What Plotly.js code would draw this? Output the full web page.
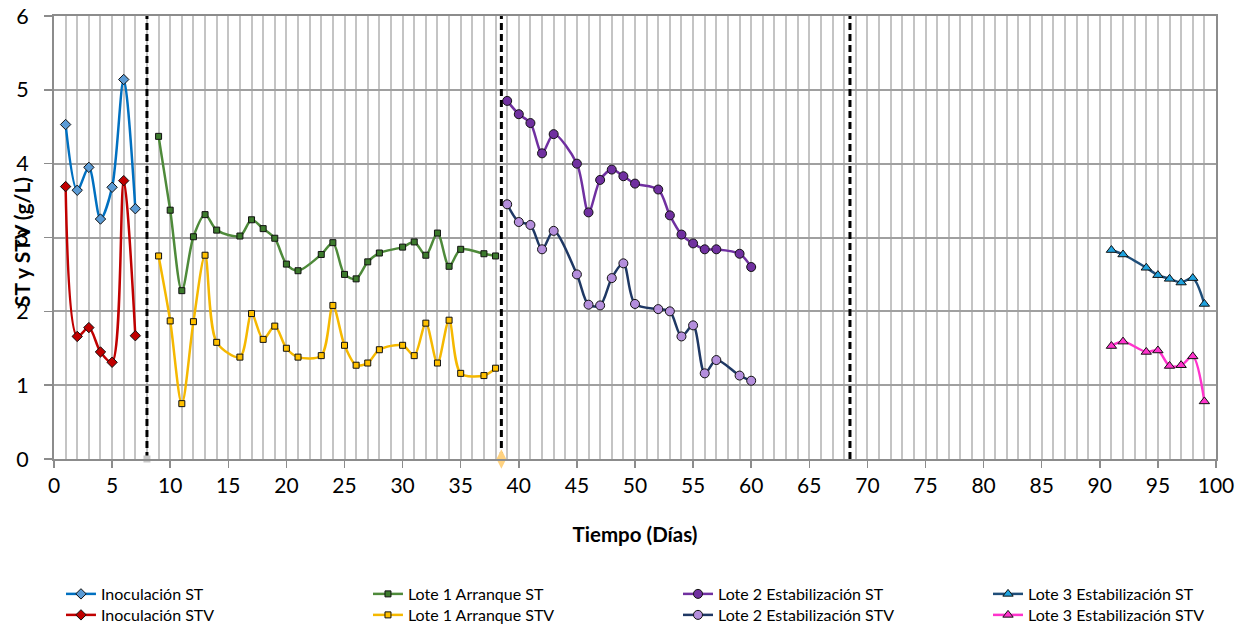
<!DOCTYPE html>
<html>
<head>
<meta charset="utf-8">
<script src="https://cdn.plot.ly/plotly-3.0.1.min.js"></script>
<style>
  html, body { margin: 0; padding: 0; background: #fff; overflow: hidden; }
  #chart { width: 1250px; height: 650px; }
</style>
</head>
<body>
<div id="chart"></div>
<script>
// Inoculación
const diasInoc = [1, 2, 3, 4, 5, 6, 7];
const stInoc = [4.53, 3.64, 3.95, 3.25, 3.68, 5.14, 3.39];
const stvInoc = [3.69, 1.66, 1.78, 1.45, 1.31, 3.77, 1.67];

// Lote 1 Arranque
const diasLote1 = [9, 10, 11, 12, 13, 14, 16, 17, 18, 19, 20, 21, 23, 24, 25, 26, 27, 28, 30, 31, 32, 33, 34, 35, 37, 38];
const stLote1 = [4.37, 3.37, 2.28, 3.01, 3.31, 3.10, 3.02, 3.24, 3.12, 2.99, 2.64, 2.55, 2.77, 2.93, 2.50, 2.44, 2.67, 2.79, 2.87, 2.94, 2.76, 3.06, 2.61, 2.84, 2.78, 2.75];
const stvLote1 = [2.75, 1.87, 0.75, 1.86, 2.76, 1.58, 1.38, 1.97, 1.62, 1.80, 1.50, 1.38, 1.40, 2.08, 1.54, 1.27, 1.30, 1.48, 1.54, 1.40, 1.84, 1.30, 1.88, 1.16, 1.13, 1.23];

// Lote 2 Estabilización
const diasLote2 = [39, 40, 41, 42, 43, 45, 46, 47, 48, 49, 50, 52, 53, 54, 55, 56, 57, 59, 60];
const stLote2 = [4.85, 4.67, 4.55, 4.14, 4.40, 4.00, 3.34, 3.78, 3.92, 3.83, 3.73, 3.65, 3.30, 3.04, 2.92, 2.84, 2.84, 2.78, 2.60];
const stvLote2 = [3.45, 3.21, 3.17, 2.84, 3.09, 2.50, 2.09, 2.08, 2.45, 2.65, 2.10, 2.03, 2.00, 1.66, 1.81, 1.16, 1.34, 1.13, 1.06];

// Lote 3 Estabilización
const diasLote3 = [91, 92, 94, 95, 96, 97, 98, 99];
const stLote3 = [2.83, 2.77, 2.59, 2.49, 2.44, 2.39, 2.45, 2.10];
const stvLote3 = [1.53, 1.59, 1.45, 1.47, 1.26, 1.27, 1.39, 0.78];

// Cambios de etapa (líneas verticales discontinuas)
const diasCambio = [8, 38.5, 68.5];
const rangoY = [0, 6];

const FONT = 'Lato, "Open Sans", "DejaVu Sans", sans-serif';

function serie(name, x, y, lineColor, markerColor, symbol, size, legendId) {
  return {
    type: 'scatter', mode: 'lines+markers', name: name, x: x, y: y, legend: legendId,
    line: { color: lineColor, width: 2.5, shape: 'spline', smoothing: 0.85 },
    marker: { symbol: symbol, size: size, color: markerColor, line: { color: '#111', width: 1 } }
  };
}

const traces = [
  serie('Inoculación ST', diasInoc, stInoc, '#0070C0', '#5B9BD5', 'diamond', 8, 'legend'),
  serie('Inoculación STV', diasInoc, stvInoc, '#C00000', '#C00000', 'diamond', 8, 'legend2'),
  serie('Lote 1 Arranque ST', diasLote1, stLote1, '#4E8A3A', '#3C7A2C', 'square', 6, 'legend3'),
  serie('Lote 1 Arranque STV', diasLote1, stvLote1, '#F5B800', '#FFC000', 'square', 6, 'legend4'),
  serie('Lote 2 Estabilización ST', diasLote2, stLote2, '#7030A0', '#7030A0', 'circle', 9, 'legend5'),
  serie('Lote 2 Estabilización STV', diasLote2, stvLote2, '#1F3864', '#B48EDC', 'circle', 9, 'legend6'),
  serie('Lote 3 Estabilización ST', diasLote3, stLote3, '#1F4E79', '#1FA2DE', 'triangle-up', 9, 'legend7'),
  serie('Lote 3 Estabilización STV', diasLote3, stvLote3, '#FF33CC', '#FF33CC', 'triangle-up', 9, 'legend8')
];

// vertical dashed separators
diasCambio.forEach(function (d) {
  traces.push({
    type: 'scatter', mode: 'lines', x: [d, d], y: rangoY, showlegend: false, hoverinfo: 'skip',
    line: { color: '#000', width: 3, dash: '7px,4px' }
  });
});

// base markers of the separator series
traces.push({
  type: 'scatter', mode: 'markers', x: [diasCambio[0]], y: [rangoY[0]], showlegend: false, cliponaxis: false,
  marker: { symbol: 'square', size: 7, color: '#C8C8C8' }
});
traces.push({
  type: 'scatter', mode: 'markers', x: [diasCambio[1]], y: [rangoY[0]], showlegend: false, cliponaxis: false,
  marker: { symbol: 'diamond-tall', size: 14, color: '#FFD280' }
});

// legend grid: four columns, two rows
const colX = [0.006, 0.2702, 0.537, 0.8038];
const rowY = [-0.3047, -0.3521];
function leyenda(col, row) {
  return {
    x: colX[col], xanchor: 'left', y: rowY[row], yanchor: 'middle',
    bgcolor: 'rgba(0,0,0,0)', borderwidth: 0,
    font: { size: 16, family: FONT, color: '#000' }, itemwidth: 30
  };
}

const layout = {
  width: 1250, height: 650,
  margin: { l: 54, r: 34, t: 16, b: 191 },
  paper_bgcolor: '#fff', plot_bgcolor: '#fff',
  font: { family: FONT, color: '#000' },
  showlegend: true,
  xaxis: {
    range: [0, 100], dtick: 5, tick0: 0,
    showgrid: true, gridcolor: '#C4C4C4', gridwidth: 2,
    minor: { dtick: 1, showgrid: true, gridcolor: '#C4C4C4', gridwidth: 2 },
    showline: true, linecolor: '#8C8C8C', linewidth: 2, mirror: true,
    ticks: 'outside', ticklen: 7, tickwidth: 1.5, tickcolor: '#8C8C8C',
    tickfont: { size: 21, family: FONT }, ticklabelstandoff: 0,
    zeroline: false,
    title: { text: '<b>Tiempo (Días)</b>', font: { size: 20.5, family: FONT }, standoff: 31 }
  },
  yaxis: {
    range: [0, 6], dtick: 1,
    showgrid: true, gridcolor: '#A0A0A0', gridwidth: 2,
    showline: true, linecolor: '#8C8C8C', linewidth: 2, mirror: true,
    ticks: 'outside', ticklen: 8, tickwidth: 1.5, tickcolor: '#8C8C8C',
    tickfont: { size: 21.5, family: FONT }, ticklabelstandoff: 11,
    zeroline: false
  },
  legend: leyenda(0, 0),
  legend2: leyenda(0, 1),
  legend3: leyenda(1, 0),
  legend4: leyenda(1, 1),
  legend5: leyenda(2, 0),
  legend6: leyenda(2, 1),
  legend7: leyenda(3, 0),
  legend8: leyenda(3, 1),
  annotations: [{
    text: '<b>ST y STV (g/L)</b>', textangle: -90, xref: 'paper', yref: 'paper',
    x: -0.0275, y: 0.49, xanchor: 'center', yanchor: 'middle', showarrow: false,
    font: { size: 21, family: FONT, color: '#000' }
  }]
};

Plotly.newPlot('chart', traces, layout, { displayModeBar: false, staticPlot: true });
</script>
</body>
</html>
